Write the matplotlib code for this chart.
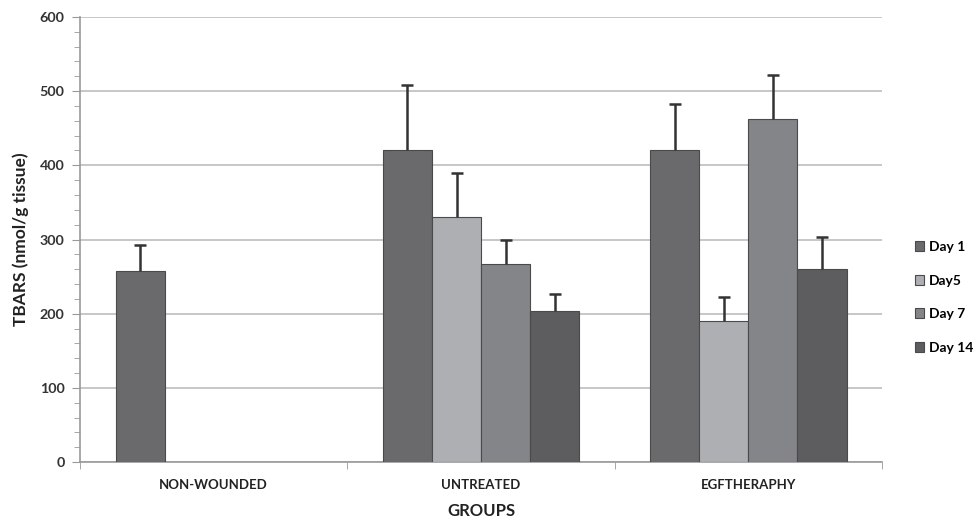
import numpy as np
import matplotlib.pyplot as plt
from matplotlib.ticker import MultipleLocator, FixedLocator

groups = ["NON-WOUNDED", "UNTREATED", "EGFTHERAPHY"]
days = ["Day 1", "Day5", "Day 7", "Day 14"]

# mean TBARS per day (nan = not measured)
day1 = [258, 421, 420]
day5 = [np.nan, 331, 190]
day7 = [np.nan, 267, 462]
day14 = [np.nan, 204, 260]

# upper error bars
err1 = [34, 87, 63]
err5 = [0, 58, 32]
err7 = [0, 32, 60]
err14 = [0, 23, 43]

colors = ["#6a6a6c", "#aeafb3", "#848588", "#5d5d5f"]

plt.rcParams['font.family'] = ['Lato', 'DejaVu Sans']

fig = plt.figure(figsize=(9.79, 5.21), dpi=100)
ax = fig.add_axes([0.0817, 0.1132, 0.8193, 0.8542])

x = np.arange(len(groups))
w = 0.1835
series = [day1, day5, day7, day14]
errs = [err1, err5, err7, err14]
for i, (vals, e, c, lab) in enumerate(zip(series, errs, colors, days)):
    pos = x + (i - 1.5) * w
    ax.bar(pos, vals, w, color=c, edgecolor="#4a4a4a", linewidth=0.8,
           label=lab, zorder=3)
    v = np.array(vals, dtype=float)
    ok = ~np.isnan(v)
    top = v[ok] + np.array(e)[ok]
    # plus-only error bars: stem from bar top, cap at the end
    ax.vlines(pos[ok], v[ok], top, color="#333333", linewidth=1.8, zorder=4)
    ax.plot(pos[ok], top, linestyle="none", marker="_", markersize=9,
            markeredgewidth=1.8, color="#333333", zorder=4)

ax.set_ylim(0, 600)
ax.set_xlim(-0.5, 2.5)
ax.yaxis.set_major_locator(MultipleLocator(100))
ax.yaxis.set_minor_locator(MultipleLocator(20))
ax.grid(axis="y", color="#bdbdbd", linewidth=1.2, zorder=0)
ax.set_axisbelow(True)

ax.set_xticks(x)
ax.set_xticklabels(groups, fontsize=9.5, fontweight="bold", color="#222222")
ax.tick_params(axis="x", which="major", length=0, pad=12)
ax.xaxis.set_minor_locator(FixedLocator([-0.5, 0.5, 1.5, 2.5]))
ax.tick_params(axis="x", which="minor", length=5, color="#999999", direction="out")
ax.tick_params(axis="y", which="major", length=6, color="#999999",
               labelsize=10.3, pad=5)
ax.tick_params(axis="y", which="minor", length=4, color="#999999")
for t in ax.get_yticklabels():
    t.set_fontweight("bold")
    t.set_color("#333333")

for s in ["top", "right"]:
    ax.spines[s].set_visible(False)
ax.spines["left"].set_color("#999999")
ax.spines["bottom"].set_color("#999999")
ax.spines["left"].set_linewidth(1.2)
ax.spines["bottom"].set_linewidth(1.2)

ax.set_ylabel("TBARS (nmol/g tissue)", fontsize=12.5, fontweight="bold",
              color="#222222", labelpad=8)
ax.set_xlabel("GROUPS", fontsize=12, fontweight="bold", color="#222222",
              labelpad=9)

leg = ax.legend(loc="center left", bbox_to_anchor=(1.025, 0.37), frameon=False,
                handlelength=0.7, handleheight=0.7, handletextpad=0.35,
                labelspacing=1.55, prop={"size": 10, "weight": "bold"})

fig.savefig("out.png", dpi=100, facecolor="white")
